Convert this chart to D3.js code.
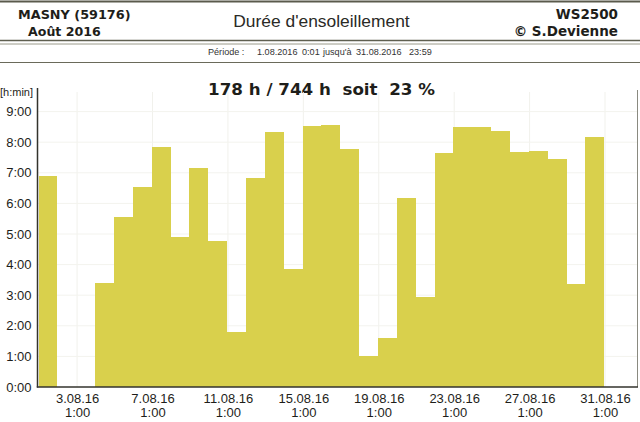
<!DOCTYPE html>
<html><head><meta charset="utf-8">
<script src="https://cdn.jsdelivr.net/npm/d3@7"></script>
<style>
html,body{margin:0;padding:0;background:#fff;}
svg{display:block;}
</style>
</head><body>
<svg id="chart" width="640" height="422"></svg>
<script>
// ---- data ----
const station = "MASNY (59176)";
const period = "Août 2016";
const title = "Durée d'ensoleillement";
const device = "WS2500";
const author = "© S.Devienne";
const periodParts = ["Période :", "1.08.2016", "0:01", "jusqu'à", "31.08.2016", "23:59"];
const summary = "178 h / 744 h  soit  23 %";
const days = d3.range(1, 32); // 1..31 August 2016
// daily sunshine duration in hours (day 31: no bar)
const sunHours = [6.9, 0, 0, 3.39, 5.57, 6.55, 7.85, 4.89, 7.17, 4.78,
                  1.79, 6.82, 8.34, 3.85, 8.53, 8.57, 7.77, 1.01, 1.59, 6.19,
                  2.95, 7.66, 8.51, 8.49, 8.38, 7.68, 7.72, 7.44, 3.37, 8.16, null];
const tickDays = [3, 7, 11, 15, 19, 23, 27, 31];
const yTicks = [0, 1, 2, 3, 4, 5, 6, 7, 8, 9];
const yUnit = "[h:min]";

// ---- drawing ----
const svg = d3.select("#chart");
const ink = "#1e1e1a";
const barCol = "#d9d04c";

// header lines
[[1.5, 2, "#5a5a4c"], [40.5, 1.6, "#5f5f50"], [44, 1, "#9a9a8a"], [62.5, 1.2, "#6a6a5a"]].forEach(([yy, w, c]) => {
  svg.append("line").attr("x1", 0).attr("x2", 640).attr("y1", yy).attr("y2", yy)
    .attr("stroke", c).attr("stroke-width", w);
});

const bold = "DejaVu Sans, Verdana, sans-serif";
const sans = "Liberation Sans, Arial, sans-serif";
svg.append("text").attr("x", 18).attr("y", 18.5).attr("font-family", bold).attr("font-weight", "bold")
  .attr("font-size", 12.8).attr("fill", ink).text(station);
svg.append("text").attr("x", 28).attr("y", 36).attr("font-family", bold).attr("font-weight", "bold")
  .attr("font-size", 12.6).attr("fill", ink).text(period);
svg.append("text").attr("x", 321.5).attr("y", 26.5).attr("text-anchor", "middle").attr("font-family", sans)
  .attr("font-size", 17.4).attr("fill", "#2a2a26").text(title);
svg.append("text").attr("x", 618).attr("y", 18.5).attr("text-anchor", "end").attr("font-family", bold).attr("font-weight", "bold")
  .attr("font-size", 13.5).attr("fill", ink).text(device);
svg.append("text").attr("x", 618).attr("y", 36).attr("text-anchor", "end").attr("font-family", bold).attr("font-weight", "bold")
  .attr("font-size", 13.5).attr("fill", ink).text(author);
const periodX = [208, 257, 302, 323, 356, 409];
svg.append("g").selectAll("text").data(periodParts).join("text")
  .attr("x", (d, i) => periodX[i]).attr("y", 54.5).attr("font-family", sans).attr("font-size", 9.1)
  .attr("fill", "#333").text(d => d);
svg.append("text").attr("x", 321.5).attr("y", 95).attr("text-anchor", "middle").attr("font-family", bold).attr("font-weight", "bold")
  .attr("font-size", 16.7).attr("fill", ink).style("white-space", "pre").text(summary);

// scales
const t0 = Date.UTC(2016, 7, 1);
const dayMs = 864e5;
const x = d3.scaleUtc().domain([new Date(t0), new Date(Date.UTC(2016, 8, 1, 19))]).range([38.6, 638]);
const y = d3.scaleLinear().domain([0, 9]).range([387, 111.6]);

// faint grid
const grid = svg.append("g");
grid.selectAll("line.v").data(tickDays).join("line")
  .attr("x1", d => x(new Date(t0 + (d - 1) * dayMs + 36e5)))
  .attr("x2", d => x(new Date(t0 + (d - 1) * dayMs + 36e5)))
  .attr("y1", 92).attr("y2", 387).attr("stroke", "#f1f1ec").attr("stroke-width", 1);
grid.selectAll("line.h").data(yTicks.slice(1)).join("line")
  .attr("x1", 38).attr("x2", 637).attr("y1", d => y(d)).attr("y2", d => y(d))
  .attr("stroke", "#f3f3ee").attr("stroke-width", 1);

// bars
const data = days.map((d, i) => ({ day: d, v: sunHours[i] })).filter(d => d.v != null && d.v > 0);
svg.append("g").selectAll("rect").data(data).join("rect")
  .attr("x", d => x(new Date(t0 + (d.day - 1) * dayMs)))
  .attr("width", d => x(new Date(t0 + d.day * dayMs)) - x(new Date(t0 + (d.day - 1) * dayMs)))
  .attr("y", d => y(d.v))
  .attr("height", d => y(0) - y(d.v))
  .attr("fill", barCol)
  .attr("shape-rendering", "crispEdges");

// frame lines
svg.append("line").attr("x1", 637.5).attr("x2", 637.5).attr("y1", 90).attr("y2", 387)
  .attr("stroke", "#8a8a80").attr("stroke-width", 1);

// y axis
const yAxis = svg.append("g").attr("transform", "translate(37.5,0)")
  .call(d3.axisLeft(y).tickValues(yTicks).tickFormat(d => d + ":00").tickSize(0).tickPadding(6));
yAxis.select(".domain").remove();
yAxis.selectAll("text").attr("font-family", sans).attr("font-size", 13).attr("fill", ink);
svg.append("line").attr("x1", 37.5).attr("x2", 37.5).attr("y1", 88).attr("y2", 387.5)
  .attr("stroke", "#33332c").attr("stroke-width", 1.5);
svg.append("text").attr("x", 0).attr("y", 96).attr("font-family", sans)
  .attr("font-size", 11).attr("fill", ink).text(yUnit);

// x axis
const xAxis = svg.append("g").attr("transform", "translate(0,387)")
  .call(d3.axisBottom(x).tickValues(tickDays.map(d => new Date(t0 + (d - 1) * dayMs + 36e5)))
    .tickSize(0).tickPadding(4).tickFormat(""));
xAxis.select(".domain").remove();
xAxis.selectAll(".tick text").each(function(d, i) {
  const t = d3.select(this).attr("font-family", sans).attr("font-size", 13).attr("fill", ink).attr("y", 0).attr("dy", null);
  t.append("tspan").attr("x", 0).attr("y", 15.5).text(tickDays[i] + ".08.16");
  t.append("tspan").attr("x", 0).attr("y", 30).text("1:00");
});
svg.append("line").attr("x1", 36.8).attr("x2", 638).attr("y1", 387).attr("y2", 387)
  .attr("stroke", "#33332c").attr("stroke-width", 1.5);
</script>
</body></html>
